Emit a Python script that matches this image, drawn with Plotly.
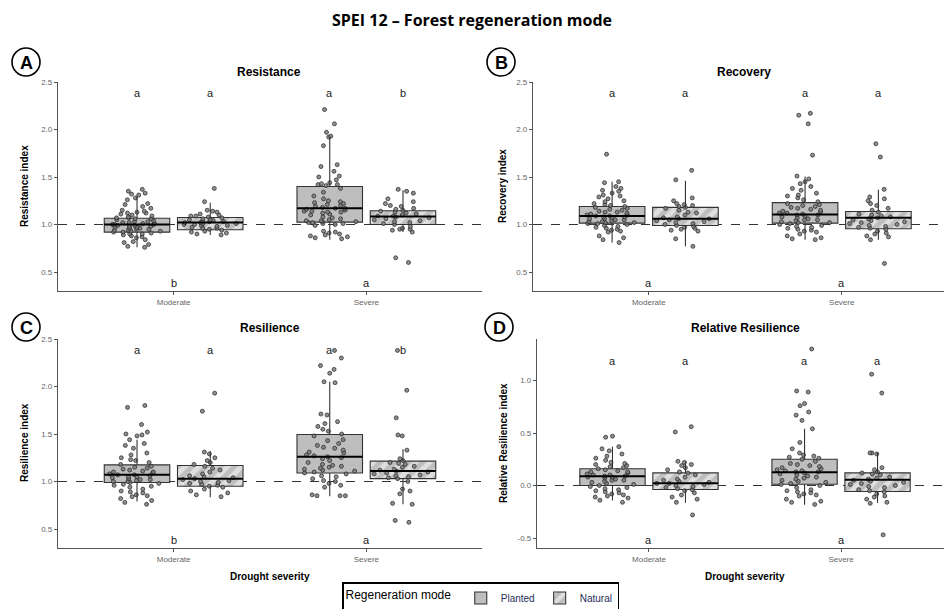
import plotly.graph_objects as go

W, H = 944, 609

# ---------------- data ----------------
severity = ["Moderate", "Severe"]
modes = ["Planted", "Natural"]
panel_titles = ["Resistance", "Recovery", "Resilience", "Relative Resilience"]
panel_tags = ["A", "B", "C", "D"]
y_titles = ["Resistance index", "Recovery index", "Resilience index", "Relative Resilience index"]
ref_levels = [1.0, 1.0, 1.0, 0.0]
y_ticks = [[0.5, 1.0, 1.5, 2.0, 2.5], [0.5, 1.0, 1.5, 2.0, 2.5],
           [0.5, 1.0, 1.5, 2.0, 2.5], [-0.5, 0.0, 0.5, 1.0]]

# group order: Moderate-Planted, Moderate-Natural, Severe-Planted, Severe-Natural
resistance_q1 = [0.92, 0.944, 1.025, 1.0]
resistance_med = [1.0, 1.02, 1.17, 1.084]
resistance_q3 = [1.066, 1.074, 1.40, 1.144]
resistance_lo = [0.76, 0.89, 0.84, 0.92]
resistance_hi = [1.29, 1.23, 1.92, 1.36]

recovery_q1 = [1.014, 0.99, 1.014, 0.955]
recovery_med = [1.09, 1.06, 1.105, 1.07]
recovery_q3 = [1.19, 1.18, 1.23, 1.137]
recovery_lo = [0.81, 0.77, 0.84, 0.84]
recovery_hi = [1.45, 1.46, 1.505, 1.365]

resilience_q1 = [0.99, 0.95, 1.09, 1.03]
resilience_med = [1.07, 1.03, 1.26, 1.11]
resilience_q3 = [1.175, 1.168, 1.495, 1.214]
resilience_lo = [0.79, 0.835, 0.845, 0.76]
resilience_hi = [1.44, 1.32, 2.05, 1.34]

relres_q1 = [0.0, -0.038, 0.012, -0.057]
relres_med = [0.089, 0.022, 0.127, 0.054]
relres_q3 = [0.159, 0.12, 0.25, 0.12]
relres_lo = [-0.143, -0.165, -0.184, -0.165]
relres_hi = [0.37, 0.23, 0.54, 0.317]

# individual observations (jittered points)
resistance_mod_planted = [1.37, 1.35, 1.33, 1.32, 1.31, 1.28, 1.26, 1.22, 1.21, 1.19, 1.17, 1.15, 1.14, 1.13,
                          1.12, 1.12, 1.11, 1.10, 1.09, 1.08, 1.07, 1.07, 1.06, 1.06, 1.05, 1.04, 1.03, 1.03,
                          1.02, 1.02, 1.01, 1.01, 1.00, 1.00, 1.00, 0.99, 0.99, 0.98, 0.98, 0.97, 0.97, 0.96,
                          0.96, 0.95, 0.95, 0.94, 0.94, 0.93, 0.93, 0.92, 0.92, 0.91, 0.90, 0.90, 0.89, 0.88,
                          0.87, 0.86, 0.84, 0.82, 0.81, 0.79, 0.77, 0.76]
resistance_mod_natural = [1.38, 1.24, 1.15, 1.14, 1.13, 1.11, 1.10, 1.09, 1.09, 1.08, 1.07, 1.06, 1.05, 1.05,
                          1.04, 1.04, 1.03, 1.03, 1.02, 1.02, 1.01, 1.01, 1.00, 1.00, 0.99, 0.99, 0.98, 0.97,
                          0.96, 0.96, 0.95, 0.94, 0.93, 0.92, 0.91, 0.90, 0.89]
resistance_sev_planted = [2.21, 2.06, 1.97, 1.93, 1.92, 1.83, 1.63, 1.61, 1.56, 1.51, 1.50, 1.47, 1.44, 1.43,
                          1.42, 1.42, 1.41, 1.38, 1.34, 1.30, 1.27, 1.25, 1.24, 1.23, 1.22, 1.21, 1.20, 1.19,
                          1.18, 1.17, 1.17, 1.16, 1.15, 1.14, 1.14, 1.13, 1.13, 1.12, 1.11, 1.10, 1.08, 1.07,
                          1.06, 1.05, 1.04, 1.04, 1.03, 1.03, 1.02, 1.02, 1.01, 1.01, 1.00, 0.99, 0.93, 0.92,
                          0.91, 0.90, 0.89, 0.88, 0.87, 0.86, 0.85]
resistance_sev_natural = [1.37, 1.35, 1.33, 1.27, 1.24, 1.22, 1.20, 1.19, 1.17, 1.16, 1.15, 1.14, 1.13, 1.12,
                          1.11, 1.10, 1.09, 1.09, 1.08, 1.07, 1.06, 1.05, 1.04, 1.03, 1.02, 1.01, 1.00, 0.98,
                          0.96, 0.95, 0.95, 0.94, 0.92, 0.65, 0.60]

recovery_mod_planted = [1.74, 1.45, 1.44, 1.40, 1.38, 1.36, 1.35, 1.33, 1.31, 1.30, 1.29, 1.27, 1.25, 1.24,
                        1.22, 1.21, 1.20, 1.19, 1.18, 1.17, 1.16, 1.15, 1.14, 1.13, 1.13, 1.12, 1.11, 1.10,
                        1.10, 1.09, 1.09, 1.08, 1.08, 1.07, 1.06, 1.06, 1.05, 1.05, 1.04, 1.03, 1.03, 1.02,
                        1.02, 1.01, 1.01, 1.00, 0.99, 0.98, 0.97, 0.96, 0.95, 0.94, 0.93, 0.92, 0.88, 0.86,
                        0.84, 0.81]
recovery_mod_natural = [1.57, 1.47, 1.28, 1.25, 1.22, 1.21, 1.20, 1.19, 1.18, 1.17, 1.15, 1.13, 1.12, 1.10,
                        1.08, 1.07, 1.06, 1.06, 1.05, 1.04, 1.03, 1.02, 1.01, 1.00, 0.99, 0.98, 0.97, 0.96,
                        0.95, 0.94, 0.93, 0.85, 0.77]
recovery_sev_planted = [2.17, 2.15, 2.06, 1.73, 1.51, 1.48, 1.45, 1.43, 1.40, 1.38, 1.36, 1.33, 1.31, 1.30,
                        1.28, 1.26, 1.24, 1.22, 1.21, 1.20, 1.19, 1.18, 1.17, 1.16, 1.15, 1.14, 1.13, 1.12,
                        1.12, 1.11, 1.10, 1.10, 1.09, 1.08, 1.07, 1.06, 1.05, 1.05, 1.04, 1.03, 1.02, 1.02,
                        1.01, 1.00, 0.99, 0.98, 0.97, 0.96, 0.95, 0.94, 0.93, 0.92, 0.90, 0.88, 0.86, 0.85,
                        0.84]
recovery_sev_natural = [1.85, 1.71, 1.37, 1.29, 1.27, 1.25, 1.22, 1.20, 1.17, 1.15, 1.13, 1.11, 1.10, 1.09,
                        1.08, 1.07, 1.06, 1.05, 1.04, 1.03, 1.02, 1.01, 1.00, 0.99, 0.98, 0.97, 0.96, 0.95,
                        0.93, 0.91, 0.90, 0.88, 0.87, 0.84, 0.59]

resilience_mod_planted = [1.80, 1.78, 1.60, 1.52, 1.50, 1.49, 1.48, 1.44, 1.40, 1.38, 1.35, 1.30, 1.28, 1.25,
                          1.23, 1.22, 1.20, 1.18, 1.16, 1.15, 1.14, 1.13, 1.12, 1.11, 1.10, 1.10, 1.09, 1.08,
                          1.07, 1.07, 1.06, 1.05, 1.05, 1.04, 1.03, 1.02, 1.02, 1.01, 1.00, 1.00, 0.99, 0.98,
                          0.97, 0.96, 0.95, 0.94, 0.92, 0.90, 0.89, 0.88, 0.86, 0.85, 0.84, 0.82, 0.80, 0.78,
                          0.76]
resilience_mod_natural = [1.93, 1.74, 1.31, 1.29, 1.25, 1.22, 1.20, 1.18, 1.16, 1.14, 1.12, 1.10, 1.08, 1.06,
                          1.05, 1.04, 1.03, 1.02, 1.01, 1.00, 0.99, 0.98, 0.97, 0.96, 0.95, 0.94, 0.92, 0.90,
                          0.88, 0.86, 0.84]
resilience_sev_planted = [2.38, 2.30, 2.22, 2.18, 2.14, 2.05, 2.04, 1.71, 1.70, 1.63, 1.61, 1.58, 1.55, 1.53,
                          1.50, 1.48, 1.44, 1.43, 1.40, 1.38, 1.36, 1.35, 1.33, 1.31, 1.30, 1.28, 1.27, 1.26,
                          1.25, 1.24, 1.22, 1.20, 1.18, 1.17, 1.16, 1.15, 1.14, 1.13, 1.12, 1.11, 1.10, 1.09,
                          1.08, 1.06, 1.05, 1.03, 1.01, 1.00, 0.98, 0.96, 0.94, 0.86, 0.85, 0.85, 0.85]
resilience_sev_natural = [2.38, 1.96, 1.67, 1.49, 1.48, 1.33, 1.24, 1.22, 1.20, 1.19, 1.18, 1.16, 1.15, 1.13,
                          1.12, 1.11, 1.10, 1.09, 1.08, 1.07, 1.06, 1.05, 1.04, 1.03, 1.00, 0.92, 0.90, 0.87,
                          0.77, 0.76, 0.59, 0.57]

relres_mod_planted = [0.47, 0.46, 0.37, 0.35, 0.33, 0.30, 0.28, 0.26, 0.24, 0.22, 0.21, 0.20, 0.19, 0.18,
                      0.17, 0.16, 0.15, 0.14, 0.13, 0.13, 0.12, 0.11, 0.10, 0.10, 0.09, 0.09, 0.08, 0.08,
                      0.07, 0.06, 0.05, 0.05, 0.04, 0.03, 0.02, 0.01, 0.00, -0.01, -0.02, -0.03, -0.04,
                      -0.05, -0.06, -0.07, -0.08, -0.09, -0.10, -0.11, -0.12, -0.14, -0.16]
relres_mod_natural = [0.56, 0.51, 0.23, 0.22, 0.20, 0.19, 0.17, 0.15, 0.13, 0.12, 0.10, 0.08, 0.06, 0.05,
                      0.04, 0.03, 0.02, 0.02, 0.01, 0.00, -0.01, -0.02, -0.03, -0.04, -0.05, -0.07, -0.09,
                      -0.11, -0.13, -0.16, -0.28]
relres_sev_planted = [1.30, 0.90, 0.89, 0.78, 0.76, 0.70, 0.67, 0.62, 0.54, 0.41, 0.35, 0.31, 0.29, 0.28,
                      0.27, 0.26, 0.25, 0.23, 0.21, 0.20, 0.19, 0.18, 0.17, 0.16, 0.15, 0.14, 0.14, 0.13,
                      0.13, 0.12, 0.11, 0.10, 0.09, 0.08, 0.07, 0.06, 0.05, 0.04, 0.03, 0.02, 0.01, 0.00,
                      -0.02, -0.04, -0.05, -0.06, -0.07, -0.08, -0.09, -0.10, -0.13, -0.15, -0.16, -0.18]
relres_sev_natural = [1.06, 0.88, 0.31, 0.31, 0.30, 0.17, 0.15, 0.13, 0.12, 0.11, 0.10, 0.08, 0.07, 0.06,
                      0.05, 0.04, 0.03, 0.02, 0.01, 0.00, -0.01, -0.02, -0.04, -0.05, -0.06, -0.08, -0.10,
                      -0.11, -0.13, -0.16, -0.17, -0.47]

# significance letters
top_letters_A = ["a", "a", "a", "b"]
top_letters_B = ["a", "a", "a", "a"]
top_letters_C = ["a", "a", "a", "b"]
top_letters_D = ["a", "a", "a", "a"]
bottom_letters_A = ["b", "a"]
bottom_letters_B = ["a", "a"]
bottom_letters_C = ["b", "a"]
bottom_letters_D = ["a", "a"]

# ---------------- assemble ----------------
stats = [
    (resistance_q1, resistance_med, resistance_q3, resistance_lo, resistance_hi),
    (recovery_q1, recovery_med, recovery_q3, recovery_lo, recovery_hi),
    (resilience_q1, resilience_med, resilience_q3, resilience_lo, resilience_hi),
    (relres_q1, relres_med, relres_q3, relres_lo, relres_hi),
]
points = [
    [resistance_mod_planted, resistance_mod_natural, resistance_sev_planted, resistance_sev_natural],
    [recovery_mod_planted, recovery_mod_natural, recovery_sev_planted, recovery_sev_natural],
    [resilience_mod_planted, resilience_mod_natural, resilience_sev_planted, resilience_sev_natural],
    [relres_mod_planted, relres_mod_natural, relres_sev_planted, relres_sev_natural],
]
top_letters = [top_letters_A, top_letters_B, top_letters_C, top_letters_D]
bottom_letters = [bottom_letters_A, bottom_letters_B, bottom_letters_C, bottom_letters_D]

# layout settings (pixels)
panel_px = [  # x0, x1, ytop, ybottom
    (58, 482, 82, 291),
    (533, 944, 82, 291),
    (58, 482, 339, 548),
    (537, 944, 339, 548),
]
x_ranges = [[0.4, 2.6], [0.4, 2.53], [0.4, 2.6], [0.417, 2.536]]
y_ranges = [[0.3, 2.5], [0.3, 2.5], [0.3, 2.5], [-0.595, 1.395]]
top_letter_y = [2.38, 2.38, 2.38, 1.19]
bottom_letter_y = [0.38, 0.38, 0.38, -0.52]
tag_centers = [(26, 62), (501, 62), (26, 327), (499, 327)]
title_pos = [(269, 72), (744, 72), (270, 328), (745, 328)]
ytitle_pos = [(24, 186), (502, 186), (24, 443), (503, 443)]

dodge = 0.19
box_w = 0.34
BOX_FILL = "#bebebe"
EDGE = "#333333"
FONT = "Liberation Sans, Arial"


def px(x):
    return x / W


def py(y):
    return 1 - y / H


def paper_text(x, y, text, size, color="black", angle=0, family=FONT):
    return dict(x=px(x), y=py(y), xref="paper", yref="paper", text=text, showarrow=False,
                xanchor="center", yanchor="middle", textangle=angle,
                font=dict(family=family, size=size, color=color))


fig = go.Figure()
annotations = []
shapes = []
layout_axes = {}

for p in range(4):
    sfx = "" if p == 0 else str(p + 1)
    xa, ya = "x" + sfx, "y" + sfx
    q1, med, q3, lo, hi = stats[p]
    positions = []
    for si in range(len(severity)):
        for mi in range(len(modes)):
            positions.append(si + 1 + (-dodge if mi == 0 else dodge))

    for g in range(4):
        mode_i = g % 2
        pos = positions[g]
        marker = dict(color=BOX_FILL, line=dict(color=EDGE, width=1.1))
        if mode_i == 1:
            marker["pattern"] = dict(shape="/", fgcolor="white", bgcolor=BOX_FILL,
                                     size=10, solidity=0.5, fillmode="overlay")
        fig.add_trace(go.Bar(
            x=[pos], y=[q3[g] - q1[g]], base=[q1[g]], width=box_w,
            marker=marker, xaxis=xa, yaxis=ya,
            name=modes[mode_i], legendgroup=modes[mode_i],
            showlegend=(p == 0 and g < 2), hoverinfo="skip",
        ))
        # whiskers
        fig.add_trace(go.Scatter(
            x=[pos, pos, None, pos, pos], y=[q3[g], hi[g], None, q1[g], lo[g]],
            mode="lines", line=dict(color=EDGE, width=1.1),
            xaxis=xa, yaxis=ya, showlegend=False, hoverinfo="skip",
        ))
        # median
        fig.add_trace(go.Scatter(
            x=[pos - box_w / 2, pos + box_w / 2], y=[med[g], med[g]],
            mode="lines", line=dict(color="black", width=2),
            xaxis=xa, yaxis=ya, showlegend=False, hoverinfo="skip",
        ))
    # jittered points on top
    for g in range(4):
        fig.add_trace(go.Box(
            y=points[p][g], x0=positions[g], width=box_w,
            boxpoints="all", jitter=0.9, pointpos=0,
            fillcolor="rgba(0,0,0,0)", line=dict(color="rgba(0,0,0,0)", width=0),
            marker=dict(size=4, color="rgba(125,125,125,0.85)",
                        line=dict(color="#222222", width=0.7)),
            xaxis=xa, yaxis=ya, showlegend=False, hoverinfo="y",
        ))

    x0, x1, yt, yb = panel_px[p]
    axis_common = dict(showline=True, linecolor="#555555", linewidth=1.2,
                       ticks="outside", ticklen=3, tickcolor="#555555", tickwidth=1,
                       showgrid=False, zeroline=False,
                       tickfont=dict(family=FONT, size=8, color="#666666"))
    layout_axes["xaxis" + sfx] = dict(axis_common, domain=[px(x0), px(x1)], range=x_ranges[p],
                                      anchor=ya, tickvals=[1, 2], ticktext=severity)
    layout_axes["yaxis" + sfx] = dict(axis_common, domain=[py(yb), py(yt)], range=y_ranges[p],
                                      anchor=xa, tickvals=y_ticks[p],
                                      ticktext=["%.1f" % v for v in y_ticks[p]])

    # reference dashed line
    shapes.append(dict(type="line", xref=xa + " domain", yref=ya, x0=0, x1=1,
                       y0=ref_levels[p], y1=ref_levels[p], layer="below",
                       line=dict(color="#333333", width=1, dash="dash")))

    # letters
    for g in range(4):
        annotations.append(dict(x=positions[g], y=top_letter_y[p], xref=xa, yref=ya,
                                text=top_letters[p][g], showarrow=False,
                                xanchor="center", yanchor="middle",
                                font=dict(family=FONT, size=11, color="#222222")))
    for si in range(2):
        annotations.append(dict(x=si + 1, y=bottom_letter_y[p], xref=xa, yref=ya,
                                text=bottom_letters[p][si], showarrow=False,
                                xanchor="center", yanchor="middle",
                                font=dict(family=FONT, size=11, color="#222222")))

    tx, ty = title_pos[p]
    annotations.append(paper_text(tx, ty, "<b>%s</b>" % panel_titles[p], 12))
    yx, yy = ytitle_pos[p]
    annotations.append(paper_text(yx, yy, "<b>%s</b>" % y_titles[p], 10, angle=-90))
    cx, cy = tag_centers[p]
    r = 14
    shapes.append(dict(type="circle", xref="paper", yref="paper",
                       x0=px(cx - r), x1=px(cx + r), y0=py(cy + r), y1=py(cy - r),
                       line=dict(color="black", width=1.6)))
    annotations.append(paper_text(cx, cy + 1, "<b>%s</b>" % panel_tags[p], 18))

for cxp in (270, 745):
    annotations.append(paper_text(cxp, 576, "<b>Drought severity</b>", 10))

fig.update_layout(
    width=W, height=H,
    margin=dict(l=0, r=0, t=0, b=0, autoexpand=False),
    paper_bgcolor="white", plot_bgcolor="white",
    barmode="overlay", boxmode="overlay",
    title=dict(text="<b>SPEI 12 – Forest regeneration mode</b>", x=0.5, xanchor="center",
               y=py(20), yanchor="middle",
               font=dict(family="Open Sans, Noto Sans", size=16, color="black")),
    legend=dict(orientation="h", x=px(342), y=py(582), xanchor="left", yanchor="top",
                bordercolor="black", borderwidth=1.5, bgcolor="white",
                title=dict(text="Regeneration mode ", side="left",
                           font=dict(family=FONT, size=12, color="black")),
                font=dict(family=FONT, size=10, color="#1f2d5c"),
                itemwidth=30, tracegroupgap=0),
    annotations=annotations, shapes=shapes,
    **layout_axes,
)

fig.write_html("out.html")
